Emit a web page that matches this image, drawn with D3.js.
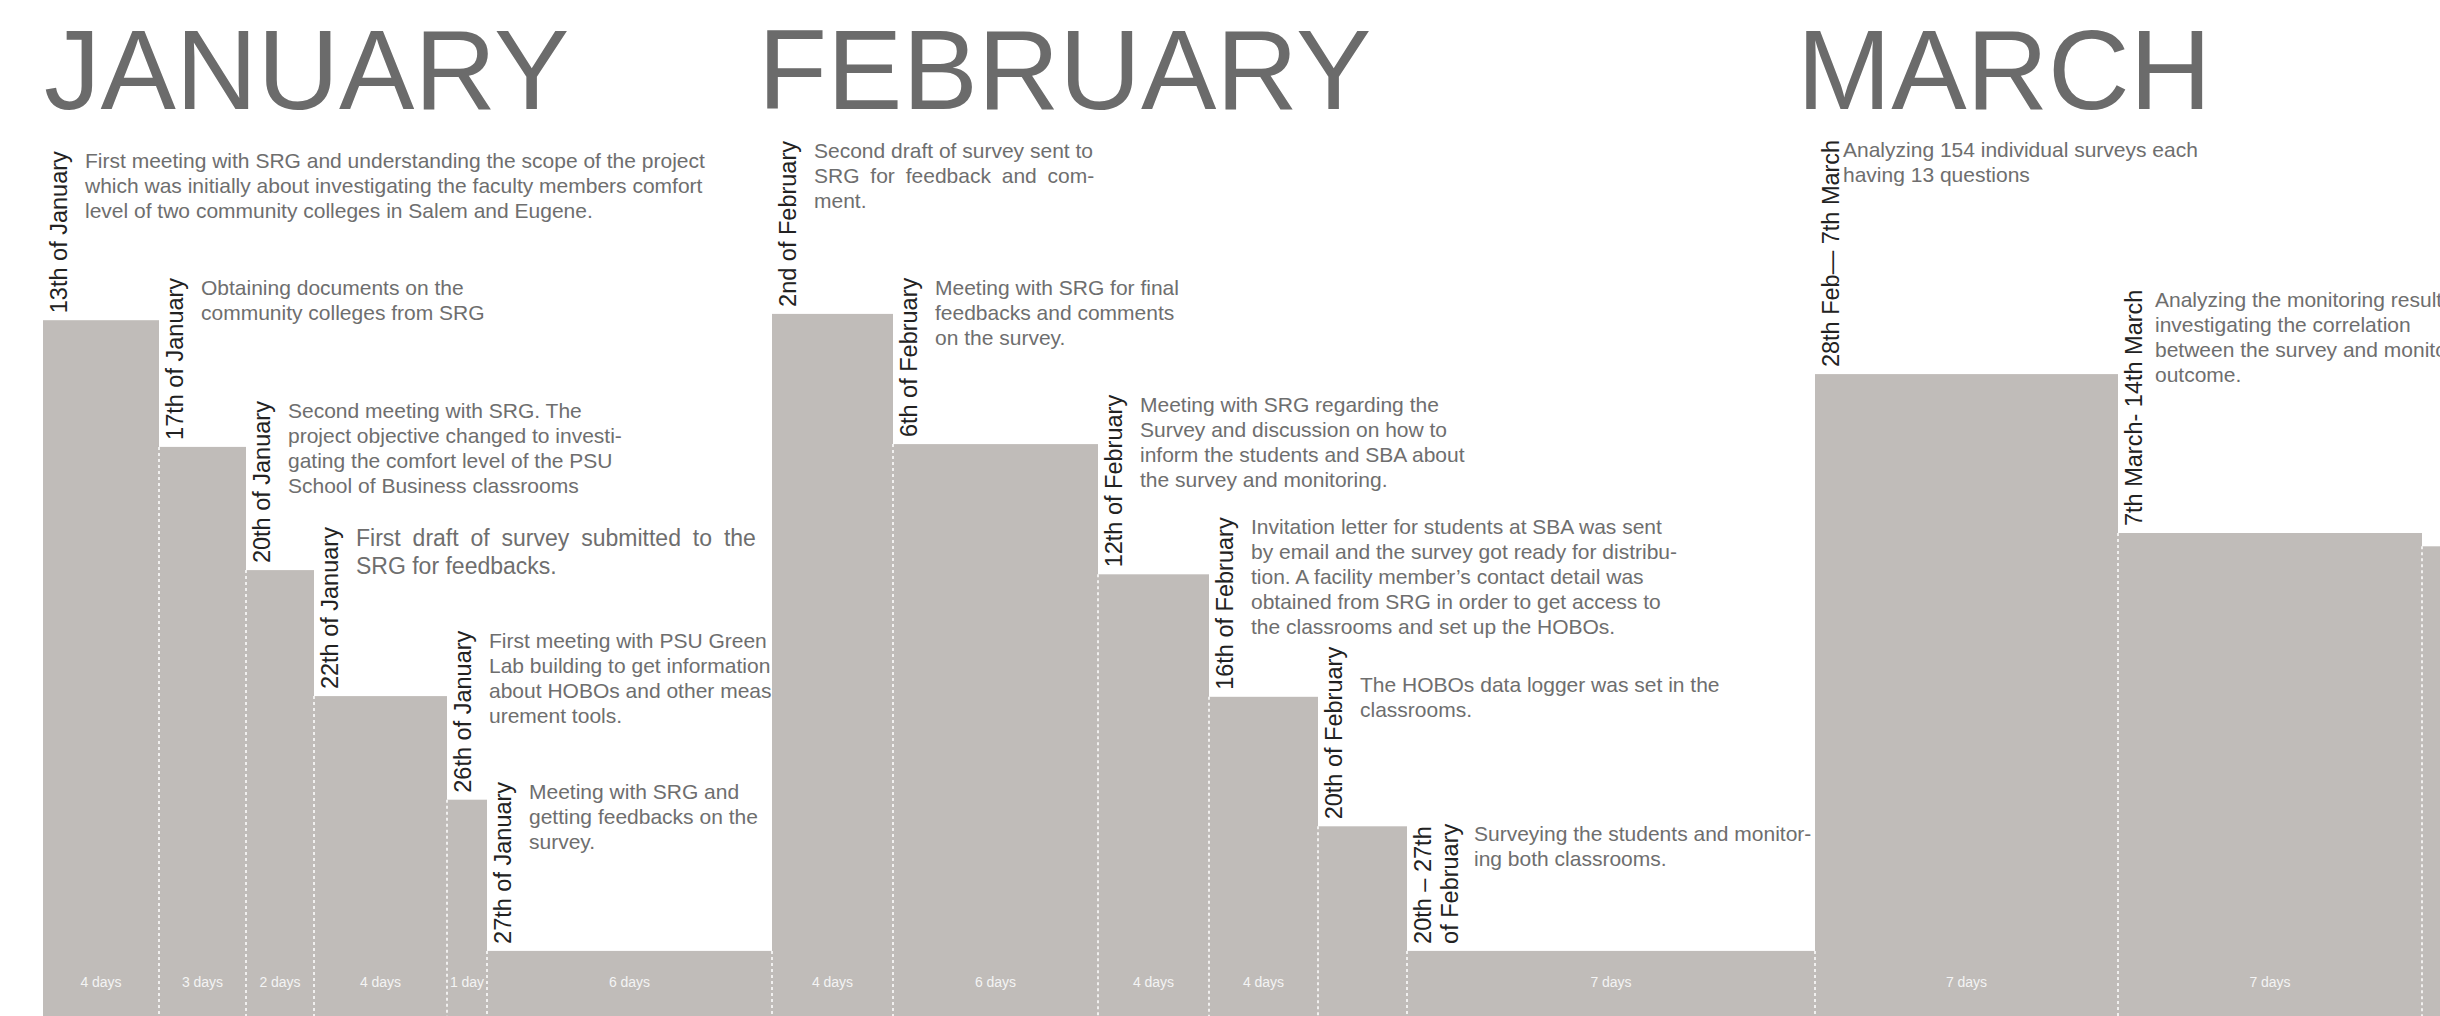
<!DOCTYPE html>
<meta charset="utf-8">
<style>

body {
  margin: 0;
  background: #fff;
  overflow: hidden;
}

svg {
  display: block;
  font-family: "Liberation Sans", Arial, sans-serif;
}

.month {
  fill: #6b6b6b;
  font-size: 113px;
}

.date {
  fill: #222;
  font-size: 23.5px;
}

.note {
  fill: #6e6e6e;
  font-size: 21px;
}

.days {
  fill: #f4f4f4;
  font-size: 14px;
  text-anchor: middle;
}

.sep {
  stroke: #fff;
  stroke-width: 1.5;
  stroke-dasharray: 3,3;
}

</style>
<body>
<script src="https://cdn.jsdelivr.net/npm/d3@7"></script>
<script>

var months = ["JANUARY", "FEBRUARY", "MARCH"];
var monthFirstBar = [0, 6, 12];

var dates = [
  ["13th of January"], ["17th of January"], ["20th of January"], ["22th of January"],
  ["26th of January"], ["27th of January"],
  ["2nd of February"], ["6th of February"], ["12th of February"], ["16th of February"],
  ["20th of February"], ["20th \u2013 27th", "of February"],
  ["28th Feb\u2014 7th March"], ["7th March- 14th March"], []
];

// bar widths (relative units)
var widths = [11.6, 8.7, 6.8, 13.3, 4.0, 28.5, 12.1, 20.5, 11.1, 10.9, 8.9, 40.8, 30.3, 30.4, 30];

// step heights, 0-100
var levels = [99.4, 81.3, 63.7, 45.7, 30.9, 9.3, 100.3, 81.7, 63.1, 45.6, 27.1, 9.3, 91.7, 69.0, 67.1];

var days = ["4 days", "3 days", "2 days", "4 days", "1 day", "6 days",
            "4 days", "6 days", "4 days", "4 days", "", "7 days",
            "7 days", "7 days", ""];

var notes = [
  ["First meeting with SRG and understanding the scope of the project",
   "which was initially about investigating the faculty members comfort",
   "level of two community colleges in Salem and Eugene."],
  ["Obtaining documents on the", "community colleges from SRG"],
  ["Second meeting with SRG. The", "project objective changed to investi-",
   "gating the comfort level of the PSU", "School of Business classrooms"],
  ["First draft of survey submitted to the", "SRG for feedbacks."],
  ["First meeting with PSU Green", "Lab building to get information",
   "about HOBOs and other meas", "urement tools."],
  ["Meeting with SRG and", "getting feedbacks on the", "survey."],
  ["Second draft of survey sent to", "SRG for feedback and com-", "ment."],
  ["Meeting with SRG for final", "feedbacks and comments", "on the survey."],
  ["Meeting with SRG regarding the", "Survey and discussion on how to",
   "inform the students and SBA about", "the survey and monitoring."],
  ["Invitation letter for students at SBA was sent",
   "by email and the survey got ready for distribu-",
   "tion. A facility member\u2019s contact detail was",
   "obtained from SRG in order to get access to",
   "the classrooms and set up the HOBOs."],
  ["The HOBOs data logger was set in the", "classrooms."],
  ["Surveying the students and monitor-", "ing both classrooms."],
  ["Analyzing 154 individual surveys each", "having 13 questions"],
  ["Analyzing the monitoring results and", "investigating the correlation",
   "between the survey and monitoring", "outcome."],
  []
];

var width = 2440,
    height = 1016;

var edges = [0].concat(Array.from(d3.cumsum(widths)));

var x = d3.scaleLinear()
    .domain([0, edges[14]])
    .range([43, 2422]);

var y = d3.scaleLinear()
    .domain([0, 100])
    .range([height, 316]);

// small layout tweaks
var noteGap = {12: 28, 13: 37};
var noteDrop = {10: 28};
var bigNote = {3: true};
var wordSpace = {"3-0": 5.5, "6-1": 5};
var titleNudge = [1, -14, -18];

var svg = d3.select("body").append("svg")
    .attr("width", width)
    .attr("height", height);

var bars = d3.range(widths.length);

svg.selectAll(".bar")
    .data(bars)
  .enter().append("rect")
    .attr("class", "bar")
    .attr("x", function(i) { return x(edges[i]); })
    .attr("y", function(i) { return y(levels[i]); })
    .attr("width", function(i) { return x(edges[i + 1]) - x(edges[i]); })
    .attr("height", function(i) { return height - y(levels[i]); })
    .style("fill", "#c0bcb9");

svg.selectAll(".sep")
    .data(bars.slice(1))
  .enter().append("line")
    .attr("class", "sep")
    .attr("x1", function(i) { return x(edges[i]); })
    .attr("x2", function(i) { return x(edges[i]); })
    .attr("y1", function(i) { return Math.max(y(levels[i - 1]), y(levels[i])); })
    .attr("y2", height);

svg.selectAll(".days")
    .data(bars)
  .enter().append("text")
    .attr("class", "days")
    .attr("x", function(i) { return (x(edges[i]) + x(edges[i + 1])) / 2; })
    .attr("y", 987)
    .text(function(i) { return days[i]; });

svg.selectAll(".month")
    .data(months)
  .enter().append("text")
    .attr("class", "month")
    .attr("x", function(d, m) { return x(edges[monthFirstBar[m]]) + titleNudge[m]; })
    .attr("y", 109)
    .text(function(d) { return d; });

bars.forEach(function(i) {
  if (!dates[i].length) return;
  var left = x(edges[i]),
      top = y(levels[i]);

  var label = svg.append("text")
      .attr("class", "date")
      .attr("transform", "translate(" + (left + 24) + "," + (top - 7) + ") rotate(-90)");

  dates[i].forEach(function(line, k) {
    label.append("tspan")
        .attr("x", 0)
        .attr("y", k * 27)
        .text(line);
  });

  var len = d3.max(label.selectAll("tspan").nodes(), function(n) { return n.getComputedTextLength(); });
  var labelTop = top - 7 - len;

  var gap = noteGap[i] || (dates[i].length > 1 ? 67 : 42);
  var big = bigNote[i];

  var note = svg.append("text")
      .attr("class", "note")
      .style("font-size", big ? "23px" : null)
      .attr("x", left + gap)
      .attr("y", labelTop + (big ? 19 : 17) + (noteDrop[i] || 0));

  notes[i].forEach(function(line, k) {
    note.append("tspan")
        .attr("x", left + gap)
        .attr("dy", k ? (big ? 28 : 25) : 0)
        .style("word-spacing", wordSpace[i + "-" + k] ? wordSpace[i + "-" + k] + "px" : null)
        .text(line);
  });
});

</script>
</body>
